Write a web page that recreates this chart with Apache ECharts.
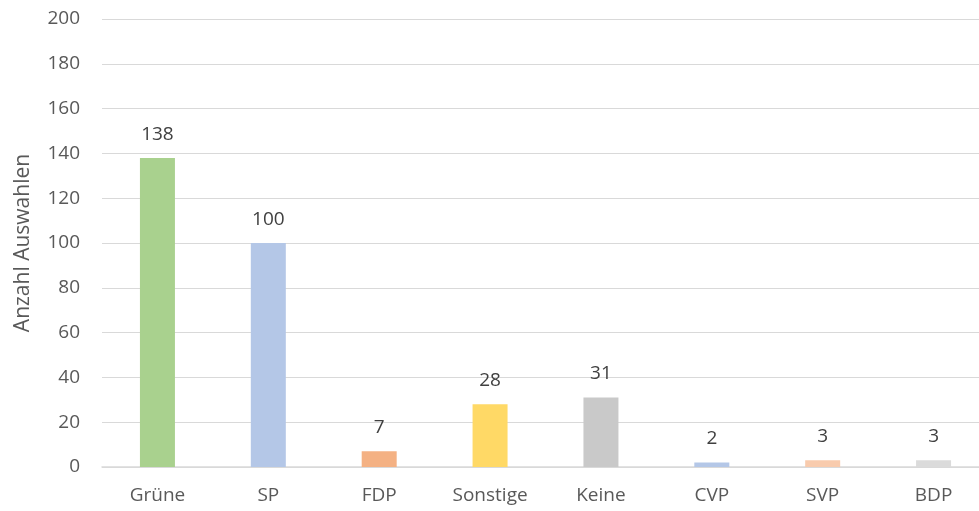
<!DOCTYPE html>
<html><head><meta charset="utf-8">
<script src="https://cdn.jsdelivr.net/npm/echarts@6/dist/echarts.min.js"></script>
<style>html,body{margin:0;padding:0;background:#fff}#c{width:979px;height:511px}</style>
</head><body><div id="c"></div>
<script>
const categories = ['Grüne','SP','FDP','Sonstige','Keine','CVP','SVP','BDP'];
const values = [138,100,7,28,31,2,3,3];
const colors = ['#A9D18E','#B4C7E7','#F4B183','#FFD966','#C9C9C9','#B4C7E7','#F8CBAD','#DBDBDB'];
const yTicks = {min:0,max:200,interval:20};
const font = 'Open Sans, Noto Sans, sans-serif';
const chart = echarts.init(document.getElementById('c'));
chart.setOption({
  animation:false,
  grid:{left:102,right:-10,top:19,bottom:44,containLabel:false,outerBoundsMode:'none'},
  xAxis:{type:'category',data:categories,
    axisLine:{lineStyle:{color:'#D9D9D9',width:1.5}},axisTick:{show:false},
    axisLabel:{color:'#595959',fontSize:19,fontFamily:font,margin:19}},
  yAxis:{type:'value',min:yTicks.min,max:yTicks.max,interval:yTicks.interval,
    name:'Anzahl Auswahlen',nameLocation:'middle',nameGap:68,nameRotate:90,
    nameTextStyle:{color:'#595959',fontSize:21,fontFamily:font},
    axisLine:{show:false},axisTick:{show:false},
    axisLabel:{color:'#595959',fontSize:19,fontFamily:font,margin:22},
    splitLine:{lineStyle:{color:'#D9D9D9',width:1}}},
  series:[{type:'bar',barWidth:35,
    data:values.map((v,i)=>({value:v,itemStyle:{color:colors[i]}})),
    label:{show:true,position:'top',distance:14,color:'#404040',fontSize:19,fontFamily:font}}]
});
</script></body></html>
